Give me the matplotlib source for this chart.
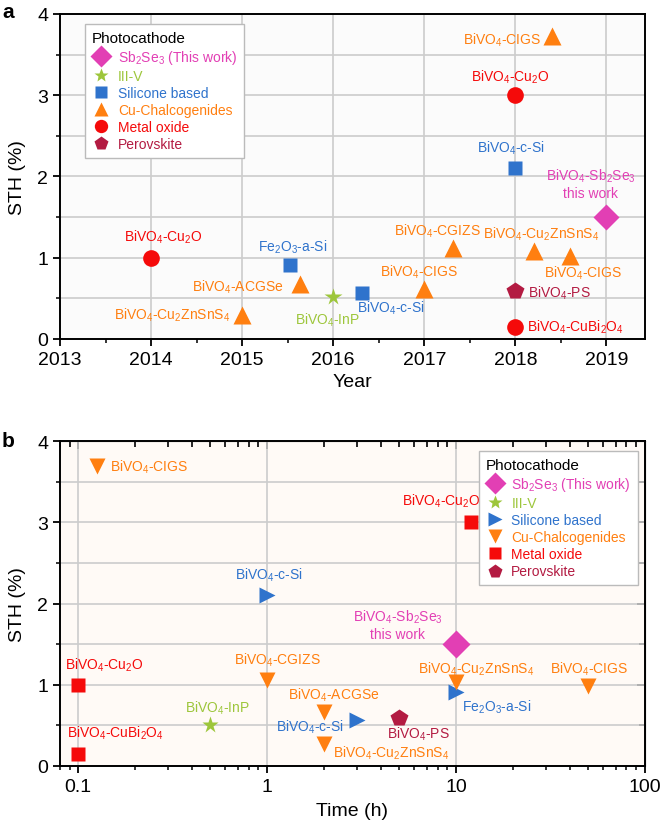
import matplotlib.pyplot as plt
from matplotlib.lines import Line2D
from matplotlib.ticker import MultipleLocator, FixedLocator, LogLocator, NullFormatter

plt.rcParams['font.family'] = ['Liberation Sans', 'DejaVu Sans']
plt.rcParams['mathtext.fontset'] = 'custom'
plt.rcParams['mathtext.rm'] = 'Liberation Sans'
plt.rcParams['mathtext.it'] = 'Liberation Sans:italic'
plt.rcParams['mathtext.bf'] = 'Liberation Sans:bold'

# photocathode categories
cats = ['Sb$_2$Se$_3$ (This work)', 'III-V', 'Silicone based',
        'Cu-Chalcogenides', 'Metal oxide', 'Perovskite']
cat_colors = ['#e23fb4', '#9dc63b', '#2f73cc', '#ff7f10', '#f50a0a', '#b31b42']

# panel a: STH vs year
a_cat = [0, 1, 2, 2, 2, 3, 3, 3, 3, 3, 3, 3, 4, 4, 4, 5]
a_year = [2019, 2016, 2015.52, 2016.32, 2018, 2015, 2015.63, 2017, 2017.32,
          2018.2, 2018.6, 2018.4, 2014, 2018, 2018, 2018]
a_sth = [1.5, 0.51, 0.91, 0.57, 2.1, 0.3, 0.68, 0.62, 1.12,
         1.08, 1.02, 3.73, 1.0, 3.0, 0.15, 0.59]
a_lab = ['BiVO$_4$-Sb$_2$Se$_3$\nthis work', 'BiVO$_4$-InP', 'Fe$_2$O$_3$-a-Si',
         'BiVO$_4$-c-Si', 'BiVO$_4$-c-Si', 'BiVO$_4$-Cu$_2$ZnSnS$_4$', 'BiVO$_4$-ACGSe',
         'BiVO$_4$-CIGS', 'BiVO$_4$-CGIZS', 'BiVO$_4$-Cu$_2$ZnSnS$_4$', 'BiVO$_4$-CIGS',
         'BiVO$_4$-CIGS', 'BiVO$_4$-Cu$_2$O', 'BiVO$_4$-Cu$_2$O', 'BiVO$_4$-CuBi$_2$O$_4$',
         'BiVO$_4$-PS']

# panel b: STH vs stability time
b_cat = [0, 1, 2, 2, 2, 3, 3, 3, 3, 3, 3, 4, 4, 4, 5]
b_time = [10, 0.5, 1, 3, 10, 0.125, 1, 2, 2, 10, 50, 12, 0.1, 0.1, 5]
b_sth = [1.5, 0.5, 2.1, 0.57, 0.91, 3.69, 1.06, 0.66, 0.27, 1.03, 0.98, 3.0, 1.0, 0.15, 0.59]
b_lab = ['BiVO$_4$-Sb$_2$Se$_3$\nthis work', 'BiVO$_4$-InP', 'BiVO$_4$-c-Si',
         'BiVO$_4$-c-Si', 'Fe$_2$O$_3$-a-Si', 'BiVO$_4$-CIGS', 'BiVO$_4$-CGIZS',
         'BiVO$_4$-ACGSe', 'BiVO$_4$-Cu$_2$ZnSnS$_4$', 'BiVO$_4$-Cu$_2$ZnSnS$_4$',
         'BiVO$_4$-CIGS', 'BiVO$_4$-Cu$_2$O', 'BiVO$_4$-Cu$_2$O', 'BiVO$_4$-CuBi$_2$O$_4$',
         'BiVO$_4$-PS']

# label placement (offset pixels, alignment)
a_off = [(-16, 34, 'center'), (-6, -22, 'center'), (3, 19, 'center'), (-5, -15, 'left'),
         (-4, 21, 'center'), (-12, 0, 'right'), (-16, -3, 'right'), (-5, 17, 'center'),
         (-16, 18, 'center'), (7, 18, 'center'), (13, -16, 'center'), (-11, -3, 'right'),
         (12, 21, 'center'), (-5, 19, 'center'), (12, 0, 'left'), (13, -1, 'left')]
b_off = [(-58, 20, 'center'), (7, 18, 'center'), (2, 21, 'center'), (-13, -7, 'right'),
         (6, -14, 'left'), (13, 0, 'left'), (10, 21, 'center'), (10, 18, 'center'),
         (9, -8, 'left'), (20, 14, 'center'), (1, 18, 'center'), (-30, 22, 'center'),
         (26, 20, 'center'), (37, 22, 'center'), (19, -15, 'center')]

a_mk = ['D', '*', 's', '^', 'o', 'p']
a_ms = [13.5, 13, 10, 13, 12, 13]
b_mk = ['D', '*', '>', 'v', 's', 'p']
b_ms = [14, 12.5, 12, 12, 10.5, 13]

fig = plt.figure(figsize=(6.6, 8.29), dpi=100)
axa = fig.add_axes([0.0909, 0.590, 0.886, 0.392])
axb = fig.add_axes([0.0909, 0.0748, 0.886, 0.392])


def draw(ax, xs, ys, cs, labs, offs, mks, mss):
    for x, y, c, lab, (dx, dy, ha) in zip(xs, ys, cs, labs, offs):
        ax.plot(x, y, marker=mks[c], ms=mss[c], color=cat_colors[c], ls='none',
                mec='none', zorder=3)
        ax.annotate(lab, (x, y), xytext=(dx, dy), textcoords='offset pixels',
                    ha=ha, va='center', color=cat_colors[c], fontsize=10,
                    multialignment='center', zorder=4)
    handles = [Line2D([], [], marker=mks[i], ms=mss[i] * 0.8, color=cat_colors[i],
                      ls='none', mec='none') for i in range(len(cats))]
    return handles


def style(ax, face):
    ax.set_facecolor(face)
    ax.set_ylim(0, 4)
    ax.yaxis.set_major_locator(MultipleLocator(1))
    ax.yaxis.set_minor_locator(MultipleLocator(0.5))
    ax.grid(True, which='major', color='#cccccc', lw=1.2, zorder=0)
    ax.grid(True, which='minor', axis='y', color='#cccccc', lw=1.2, zorder=0)
    for s in ax.spines.values():
        s.set_linewidth(1.4)
    ax.tick_params(which='major', labelsize=14, length=5, width=1.3)
    ax.tick_params(which='minor', length=3, width=1.1)
    ax.set_ylabel('STH (%)', fontsize=14, labelpad=8)


def legend(ax, handles, anchor, loc):
    lg = ax.legend(handles, cats, title='Photocathode', loc=loc, bbox_to_anchor=anchor,
                   borderaxespad=0, fontsize=10, title_fontsize=11,
                   alignment='left', fancybox=False, edgecolor='#bbbbbb',
                   framealpha=1, labelspacing=0.22, handletextpad=0.55,
                   handlelength=1.3, borderpad=0.5)
    for t, c in zip(lg.get_texts(), cat_colors):
        t.set_color(c)
    lg.set_zorder(5)


# panel a
ha = draw(axa, a_year, a_sth, a_cat, a_lab, a_off, a_mk, a_ms)
style(axa, '#fbfbfb')
axa.set_xlim(2013, 2019.42)
axa.xaxis.set_major_locator(MultipleLocator(1))
axa.xaxis.set_minor_locator(MultipleLocator(0.5))
axa.set_xlabel('Year', fontsize=14, labelpad=4)
legend(axa, ha, (0.043, 0.969), 'upper left')

# panel b
hb = draw(axb, b_time, b_sth, b_cat, b_lab, b_off, b_mk, b_ms)
style(axb, '#fffaf6')
axb.set_xscale('log')
axb.set_xlim(0.08, 100)
axb.xaxis.set_major_locator(FixedLocator([0.1, 1, 10, 100]))
axb.xaxis.set_major_formatter(plt.FuncFormatter(lambda v, p: f'{v:g}'))
axb.xaxis.set_minor_locator(LogLocator(base=10, subs=range(2, 10)))
axb.xaxis.set_minor_formatter(NullFormatter())
axb.set_xlabel('Time (h)', fontsize=14, labelpad=5)
legend(axb, hb, (0.988, 0.969), 'upper right')

# inward ticks on top and right of panel b
top = axb.secondary_xaxis('top')
top.xaxis.set_major_locator(FixedLocator([0.1, 1, 10, 100]))
top.xaxis.set_minor_locator(LogLocator(base=10, subs=range(2, 10)))
top.tick_params(which='both', direction='in', labeltop=False, width=1.2)
top.tick_params(which='major', length=6)
top.tick_params(which='minor', length=4)
right = axb.secondary_yaxis('right')
right.yaxis.set_major_locator(MultipleLocator(1))
right.yaxis.set_minor_locator(MultipleLocator(0.5))
right.tick_params(which='both', direction='in', labelright=False, width=1.2)
right.tick_params(which='major', length=6)
right.tick_params(which='minor', length=4)

fig.text(0.003, 0.985, 'a', fontsize=15, fontweight='bold', va='center')
fig.text(0.003, 0.468, 'b', fontsize=15, fontweight='bold', va='center')

fig.savefig('out.png', dpi=100)
